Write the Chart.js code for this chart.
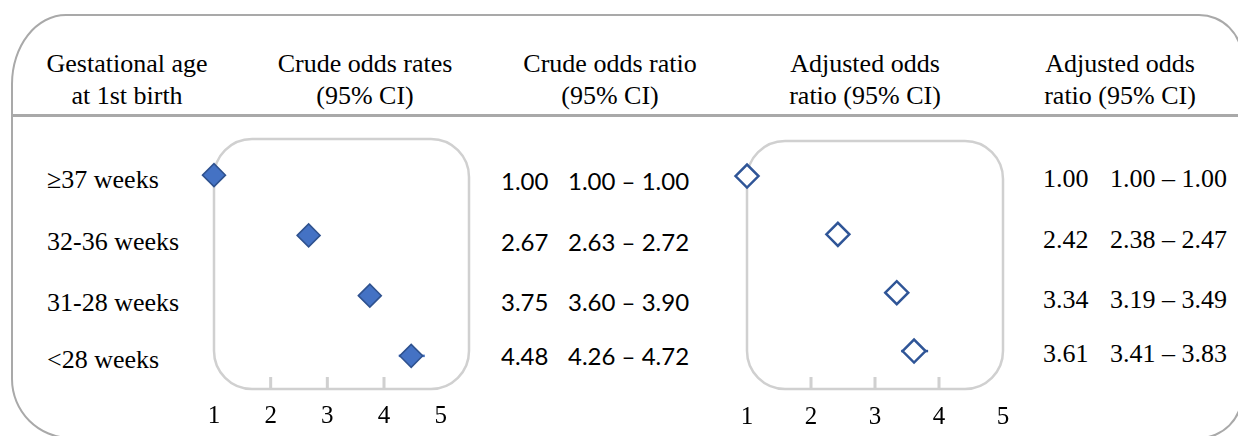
<!DOCTYPE html>
<html>
<head>
<meta charset="utf-8">
<script src="https://cdn.jsdelivr.net/npm/chart.js@4"></script>
<style>
  html, body { margin: 0; padding: 0; background: #fff; }
  body { width: 1238px; height: 436px; overflow: hidden; position: relative; }
  .frame { position: absolute; left: 11px; top: 14px; width: 1228px; height: 421px;
    border: 2px solid #a9a9a9;
    border-top-left-radius: 55px 70px; border-top-right-radius: 44px;
    border-bottom-right-radius: 44px; border-bottom-left-radius: 60px; }
  .sep { position: absolute; left: 12px; top: 114px; width: 1226px; height: 3px; background: #a9a9a9; }
  .t { position: absolute; white-space: nowrap; line-height: 1; color: #000; }
  .serif { font-family: 'Liberation Serif', 'Times New Roman', serif; font-size: 26px; }
  .sans { font-family: 'Lato', 'Liberation Sans', sans-serif; font-size: 24px; }
  .c { transform: translate(-50%, -50%); }
  .l { transform: translate(0, -50%); }
  canvas { position: absolute; }
</style>
</head>
<body>
<div class="frame"></div>
<div class="sep"></div>
<div id="txt"></div>
<canvas id="crude" width="315" height="317" style="left:184px;top:119px;"></canvas>
<canvas id="adj" width="316" height="315" style="left:717px;top:121px;"></canvas>
<script>
// ---- data ----
const rowLabels = ['≥37 weeks', '32-36 weeks', '31-28 weeks', '<28 weeks'];
const crudeOR = [1.00, 2.67, 3.75, 4.48];
const crudeLo = [1.00, 2.63, 3.60, 4.26];
const crudeHi = [1.00, 2.72, 3.90, 4.72];
const adjOR = [1.00, 2.42, 3.34, 3.61];
const adjLo = [1.00, 2.38, 3.19, 3.41];
const adjHi = [1.00, 2.47, 3.49, 3.83];
const axisTicks = [1, 2, 3, 4, 5];
const tickMarkValues = [2, 3, 4];
const headers = [
  ['Gestational age', 'at 1st birth'],
  ['Crude odds rates', '(95% CI)'],
  ['Crude odds ratio', '(95% CI)'],
  ['Adjusted odds', 'ratio (95% CI)'],
  ['Adjusted odds', 'ratio (95% CI)']
];

// ---- table text ----
const txt = document.getElementById('txt');
function addText(s, x, y, cls) {
  const d = document.createElement('div');
  d.className = 't ' + cls;
  d.textContent = s;
  d.style.left = x + 'px';
  d.style.top = y + 'px';
  txt.appendChild(d);
}
const headerX = [127, 365, 610, 865, 1120];
headers.forEach((h, i) => {
  addText(h[0], headerX[i], 64, 'serif c');
  addText(h[1], headerX[i], 96, 'serif c');
});
const rowLabelY = [180, 242, 303, 360];
rowLabels.forEach((s, i) => addText(s, 47, rowLabelY[i], 'serif l'));
const crudeTextY = [181, 242, 302, 356];
crudeOR.forEach((v, i) => {
  addText(v.toFixed(2), 501, crudeTextY[i], 'sans l');
  addText(crudeLo[i].toFixed(2) + ' \u2013 ' + crudeHi[i].toFixed(2), 568, crudeTextY[i], 'sans l');
});
const adjTextY = [179, 240, 300, 354];
adjOR.forEach((v, i) => {
  addText(v.toFixed(2), 1043, adjTextY[i], 'serif l');
  addText(adjLo[i].toFixed(2) + ' \u2013 ' + adjHi[i].toFixed(2), 1110, adjTextY[i], 'serif l');
});

// ---- charts ----
function panelPlugin(lo, hi, barColor) {
  return {
    id: 'panel',
    beforeDatasetsDraw(chart) {
      const { ctx, chartArea: a, scales: { x, y } } = chart;
      ctx.save();
      ctx.strokeStyle = '#d0d0d0';
      ctx.lineWidth = 2.5;
      ctx.beginPath();
      ctx.roundRect(a.left, a.top, a.right - a.left, a.bottom - a.top, 38);
      ctx.stroke();
      ctx.lineWidth = 3;
      ctx.beginPath();
      tickMarkValues.forEach(v => {
        const px = x.getPixelForValue(v);
        ctx.moveTo(px, a.bottom);
        ctx.lineTo(px, a.bottom - 12);
      });
      ctx.stroke();
      ctx.strokeStyle = barColor;
      ctx.lineWidth = 2.5;
      lo.forEach((l, i) => {
        const py = y.getPixelForValue(i);
        ctx.beginPath();
        ctx.moveTo(x.getPixelForValue(l), py);
        ctx.lineTo(x.getPixelForValue(hi[i]), py);
        ctx.stroke();
      });
      ctx.restore();
    }
  };
}

function makePanel(id, values, lo, hi, xMax, yMax, labelPad, style) {
  new Chart(document.getElementById(id), {
    type: 'scatter',
    data: {
      datasets: [{
        data: values.map((v, i) => ({ x: v, y: i })),
        pointStyle: 'rectRot',
        pointRadius: style.radius,
        pointHoverRadius: style.radius,
        backgroundColor: style.fill,
        borderColor: style.border,
        borderWidth: style.borderWidth,
        clip: false
      }]
    },
    options: {
      responsive: false,
      animation: false,
      devicePixelRatio: 1,
      layout: { padding: { left: 30, right: 30, top: 20, bottom: 0 } },
      plugins: { legend: { display: false }, tooltip: { enabled: false } },
      scales: {
        x: {
          type: 'linear', min: 1, max: xMax,
          afterBuildTicks: s => { s.ticks = axisTicks.map(v => ({ value: v })); },
          afterFit: s => { s.height = 47; },
          grid: { display: false, drawTicks: false },
          border: { display: false },
          ticks: { font: { family: 'Liberation Serif', size: 25 }, color: '#000', padding: labelPad, maxRotation: 0, autoSkip: false }
        },
        y: { type: 'linear', min: -0.6, max: yMax, reverse: true, display: false }
      }
    },
    plugins: [panelPlugin(lo, hi, style.bar)]
  });
}

makePanel('crude', crudeOR, crudeLo, crudeHi, 5.5, 3.55, 12,
  { radius: 11.5, fill: '#4472C4', border: '#2F528F', borderWidth: 1.5, bar: '#4472C4' });
makePanel('adj', adjOR, adjLo, adjHi, 5, 3.65, 13,
  { radius: 11.5, fill: '#FFFFFF', border: '#2F5597', borderWidth: 2.5, bar: '#2F5597' });
</script>
</body>
</html>
